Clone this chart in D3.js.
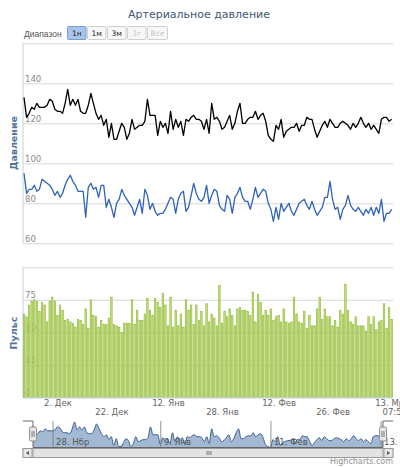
<!DOCTYPE html>
<html>
<head>
<meta charset="utf-8">
<script src="https://cdn.jsdelivr.net/npm/d3@7"></script>
<style>
  body { margin: 0; background: #fff; }
  svg { font-family: "DejaVu Sans", sans-serif; }
  .grid line { stroke: #d8d8d8; }
  .grid path { display: none; }
</style>
</head>
<body>
<svg id="chart" width="400" height="467"></svg>
<script>
// values, one per day (ordinal x axis)
var systolic = [133, 123, 125, 128, 127, 130, 128, 128, 128, 129, 132, 131, 127, 126, 126, 125, 130, 137, 129, 132,
                129, 132, 126, 125, 125, 129, 135, 130, 125, 122, 124, 119, 122, 113, 120, 112, 112, 116, 120, 118,
                112, 115, 122, 117, 118, 119, 119, 121, 132, 124, 124, 124, 114, 121, 118, 120, 115, 126, 117, 122,
                118, 121, 114, 122, 121, 123, 124, 122, 122, 121, 117, 122, 115, 130, 122, 123, 121, 117, 118, 121,
                124, 117, 120, 126, 130, 120, 120, 122, 123, 123, 126, 122, 124, 125, 121, 114, 112, 111, 119, 117,
                122, 113, 116, 117, 118, 118, 120, 116, 119, 119, 123, 122, 122, 117, 113, 116, 119, 121, 118, 122,
                120, 118, 118, 120, 121, 120, 119, 117, 120, 118, 120, 123, 120, 118, 120, 117, 119, 117, 115, 122,
                123, 123, 121, 122];

var diastolic = [95, 85, 87, 87, 89, 86, 87, 92, 91, 90, 89, 87, 84, 86, 83, 85, 89, 92, 94, 91,
                 89, 86, 86, 86, 73, 88, 90, 87, 88, 83, 89, 89, 78, 82, 78, 73, 80, 82, 87, 84,
                 82, 80, 78, 74, 78, 82, 75, 87, 84, 77, 80, 76, 74, 75, 75, 77, 80, 83, 82, 75,
                 82, 85, 86, 76, 78, 84, 90, 85, 82, 81, 83, 89, 80, 84, 87, 86, 79, 77, 76, 84,
                 82, 75, 83, 85, 88, 83, 81, 81, 77, 82, 88, 83, 85, 87, 86, 80, 77, 71, 78, 72,
                 80, 76, 78, 80, 76, 74, 77, 80, 81, 82, 79, 77, 81, 77, 74, 76, 78, 83, 83, 91,
                 82, 77, 78, 72, 77, 79, 84, 79, 77, 76, 78, 76, 74, 77, 75, 78, 74, 78, 75, 82,
                 71, 75, 75, 77];

var pulse = [64, 62, 71, 74, 75, 74, 66, 73, 71, 58, 74, 77, 74, 63, 71, 67, 59, 60, 58, 57,
             54, 60, 59, 56, 68, 53, 75, 63, 62, 54, 59, 56, 56, 61, 77, 56, 55, 54, 50, 57,
             57, 57, 75, 56, 67, 59, 59, 64, 76, 67, 63, 76, 73, 69, 80, 71, 55, 77, 54, 67,
             55, 64, 54, 75, 67, 71, 56, 71, 59, 66, 55, 72, 58, 64, 61, 55, 86, 57, 66, 62,
             68, 63, 55, 68, 69, 67, 67, 66, 63, 81, 58, 79, 73, 63, 67, 63, 68, 59, 62, 63,
             58, 68, 58, 57, 58, 77, 64, 58, 57, 66, 53, 63, 55, 55, 68, 77, 60, 68, 62, 62,
             55, 59, 54, 67, 64, 87, 67, 58, 56, 62, 55, 55, 55, 51, 62, 56, 62, 52, 58, 59,
             72, 53, 69, 60];

var pressureTicks = [60, 80, 100, 120, 140, 160];
var pulseTicks = [0, 25, 50, 75, 100];

var xTickIdx = [13, 34, 56, 77, 99, 120, 142, 144];
var xTickLabels = ["2. Дек", "22. Дек", "12. Янв", "28. Янв", "12. Фев", "26. Фев", "13. Мр", "07:50"];

var navTickIdx = [8, 52, 97, 142];
var navTickLabels = ["28. Нбр", "9. Янв", "11. Фев", "13. Мр"];

var ranges = ["1н", "1м", "3м", "1г", "Все"];
var rangeState = ["on", "off", "off", "dis", "dis"];

var N = systolic.length;
var L = 23, R = 393;

var svg = d3.select("#chart");

svg.append("text").attr("x", 199).attr("y", 18).attr("text-anchor", "middle")
  .attr("font-size", 11).attr("fill", "#3e576f").text("Артериальное давление");

// range selector
svg.append("text").attr("x", 24).attr("y", 36.5).attr("font-size", 8.5).attr("fill", "#555")
  .attr("font-family", "Liberation Sans").text("Диапазон");
var btn = svg.selectAll("g.btn").data(ranges).enter().append("g")
  .attr("transform", (d, i) => "translate(" + (67.5 + i * 20) + ",26.5)");
btn.append("rect").attr("width", (d, i) => i == 4 ? 20 : 18.5).attr("height", 13).attr("rx", 1)
  .attr("fill", (d, i) => rangeState[i] == "on" ? "#a9c4ec" : "#f7f7f7")
  .attr("stroke", (d, i) => rangeState[i] == "on" ? "#7f9cc8" : "#cfcfcf");
btn.append("text").attr("x", (d, i) => i == 4 ? 10 : 9.25).attr("y", 9.6).attr("text-anchor", "middle")
  .attr("font-size", 7.5)
  .attr("fill", (d, i) => rangeState[i] == "dis" ? "#c8c8c8" : "#222").text(d => d);

var x = d3.scaleLinear().domain([0, N - 1]).range([24, 391.7]);
var yP = d3.scaleLinear().domain([60, 160]).range([243.3, 43.3]);
var yB = d3.scaleLinear().domain([0, 100]).range([397.3, 267.3]);

function yGrid(scale, ticks) {
  var g = svg.append("g").attr("class", "grid").attr("transform", "translate(" + L + ",0)")
    .call(d3.axisRight(scale).tickValues(ticks).tickSize(R - L).tickFormat(d3.format("d")));
  g.selectAll("text").attr("x", 2).attr("y", -2).attr("dy", 0)
    .attr("font-size", 8.5).attr("fill", "#888").attr("font-family", "DejaVu Sans")
    .filter(d => d == ticks[ticks.length - 1]).remove();
  return g;
}
yGrid(yP, pressureTicks);
yGrid(yB, pulseTicks);

// left axis lines
svg.append("line").attr("x1", L).attr("x2", L).attr("y1", 43.3).attr("y2", 243.3).attr("stroke", "#c0d0e0");
svg.append("line").attr("x1", L).attr("x2", L).attr("y1", 267.3).attr("y2", 397.3).attr("stroke", "#c0d0e0");

svg.append("text").attr("transform", "translate(16.5,143) rotate(-90)").attr("text-anchor", "middle")
  .attr("font-size", 9.5).attr("font-weight", "bold").attr("fill", "#4d759e").text("Давление");
svg.append("text").attr("transform", "translate(16.5,333) rotate(-90)").attr("text-anchor", "middle")
  .attr("font-size", 9.5).attr("font-weight", "bold").attr("fill", "#4d759e").text("Пульс");

// pulse columns
var bw = 1.5;
svg.append("g").selectAll("rect").data(pulse).enter().append("rect")
  .attr("x", (d, i) => x(i) - bw / 2).attr("width", bw)
  .attr("y", d => yB(d)).attr("height", d => yB(0) - yB(d))
  .attr("fill", "#c3e07a").attr("stroke", "#8fb536").attr("stroke-width", 0.6);

// pressure lines
var line = d3.line().x((d, i) => x(i)).y(d => yP(d));
svg.append("path").datum(systolic).attr("d", line).attr("fill", "none")
  .attr("stroke", "#000").attr("stroke-width", 1.3).attr("stroke-linejoin", "round");
svg.append("path").datum(diastolic).attr("d", line).attr("fill", "none")
  .attr("stroke", "#2f62b8").attr("stroke-width", 1.3).attr("stroke-linejoin", "round");

// x axis, staggered labels
var xa = svg.append("g").attr("transform", "translate(0,397.3)")
  .call(d3.axisBottom(x).tickValues(xTickIdx).tickSize(0).tickFormat((d, i) => xTickLabels[i]));
xa.select(".domain").attr("stroke", "#c0d0e0");
xa.selectAll("text").attr("dy", 0).attr("y", (d, i) => i % 2 ? 17.5 : 9)
  .attr("font-size", 8.5).attr("fill", "#666").attr("font-family", "DejaVu Sans");

// navigator
var nT = 421, nB = 447.5;
var xN = d3.scaleLinear().domain([0, N - 1]).range([33, 383]);
var yN = d3.scaleLinear().domain(d3.extent(systolic)).range([nB, nT + 1]);
var area = d3.area().curve(d3.curveMonotoneX).x((d, i) => xN(i)).y0(nB).y1(d => yN(d));
svg.append("path").datum(systolic).attr("d", area).attr("fill", "#4572a7").attr("fill-opacity", 0.5);
svg.append("path").datum(systolic).attr("d", area.lineY1()).attr("fill", "none")
  .attr("stroke", "#3c5f92").attr("stroke-width", 1);

var na = svg.append("g").attr("transform", "translate(0," + nB + ")")
  .call(d3.axisBottom(xN).tickValues(navTickIdx).tickSize(-(nB - nT)).tickFormat((d, i) => navTickLabels[i]));
na.select(".domain").remove();
na.selectAll("line").attr("stroke", "#777").attr("stroke-width", 0.8);
na.selectAll("text").attr("text-anchor", "start").attr("x", 3).attr("y", -3).attr("dy", 0)
  .attr("font-size", 8.5).attr("fill", "#555").attr("font-family", "DejaVu Sans");

svg.append("path").attr("d", "M" + L + "," + nT + "H33V" + nB + "H383V" + nT + "H" + R)
  .attr("fill", "none").attr("stroke", "#666").attr("stroke-width", 1);

// scrollbar
var sT = 448.5, sH = 9;
svg.append("rect").attr("x", L).attr("y", sT).attr("width", R - L).attr("height", sH)
  .attr("fill", "#eeeeee").attr("stroke", "#cccccc");
svg.append("rect").attr("x", 33).attr("y", sT).attr("width", 350).attr("height", sH)
  .attr("fill", "#e3e3e3").attr("stroke", "#9a9a9a");
[207, 209, 211].forEach(function (p) {
  svg.append("line").attr("x1", p).attr("x2", p).attr("y1", sT + 2.5).attr("y2", sT + 6.5).attr("stroke", "#777");
});
[[L, 1], [R - 9, -1]].forEach(function (b) {
  svg.append("rect").attr("x", b[0]).attr("y", sT).attr("width", 9).attr("height", sH)
    .attr("fill", "#e6e6e6").attr("stroke", "#999");
  var cx = b[0] + 4.5, cy = sT + 4.5;
  svg.append("path").attr("d", "M" + (cx - 1.5 * b[1]) + "," + cy + "L" + (cx + 1.5 * b[1]) + "," + (cy - 2) +
    "L" + (cx + 1.5 * b[1]) + "," + (cy + 2) + "Z").attr("fill", "#555");
});

// handles
[33, 383].forEach(function (hx) {
  svg.append("rect").attr("x", hx - 3.5).attr("y", 427).attr("width", 7).attr("height", 14).attr("rx", 1.5)
    .attr("fill", "#ebe7e8").attr("stroke", "#8f8f8f");
  svg.append("line").attr("x1", hx - 1).attr("x2", hx - 1).attr("y1", 431).attr("y2", 437).attr("stroke", "#777");
  svg.append("line").attr("x1", hx + 1).attr("x2", hx + 1).attr("y1", 431).attr("y2", 437).attr("stroke", "#777");
});

svg.append("text").attr("x", R).attr("y", 464).attr("text-anchor", "end")
  .attr("font-size", 8).attr("fill", "#909090").text("Highcharts.com");
</script>
</body>
</html>
